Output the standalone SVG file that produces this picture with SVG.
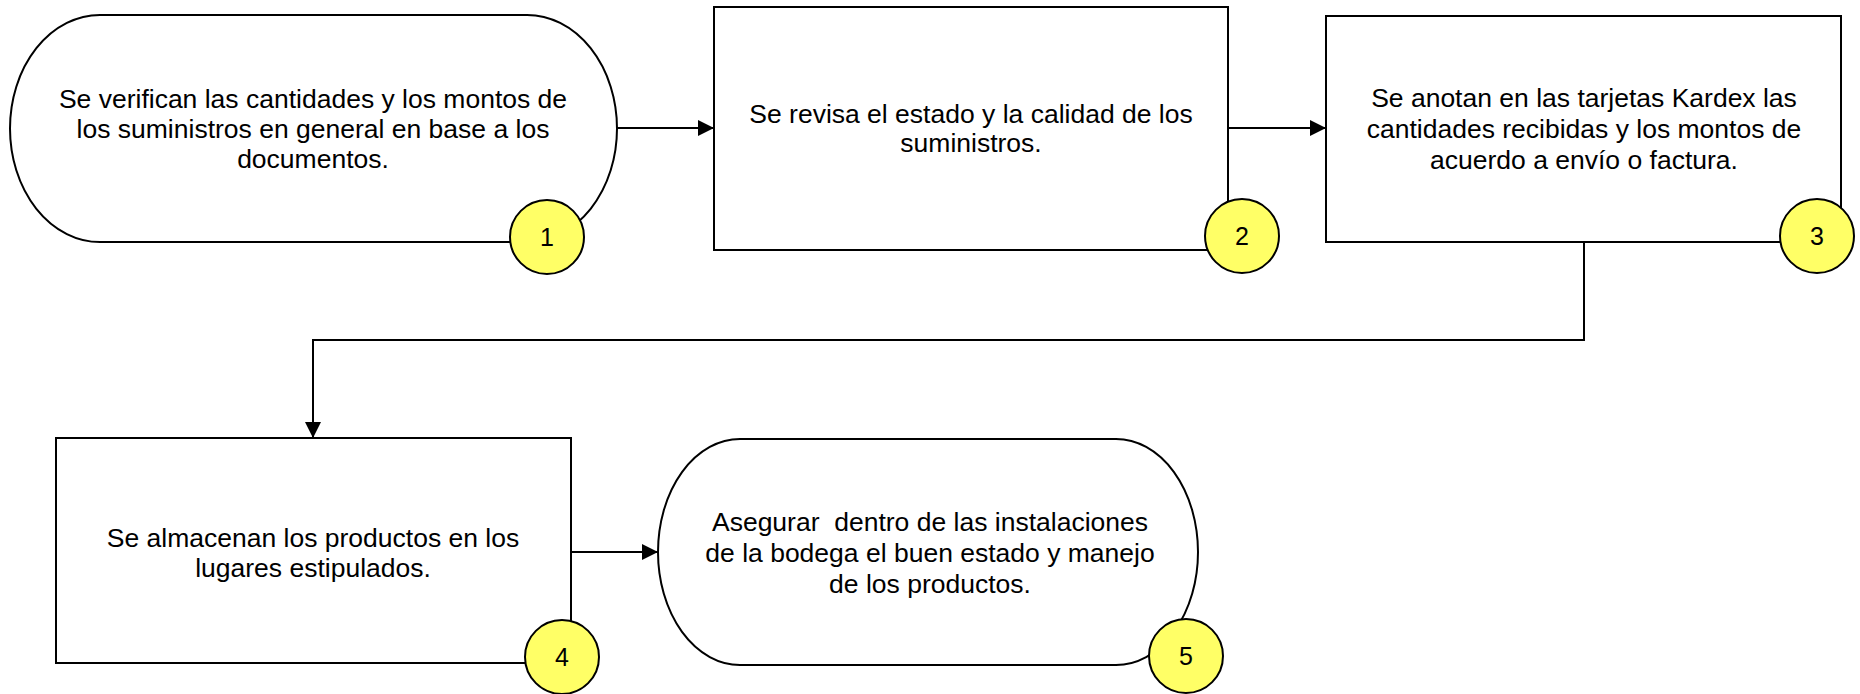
<svg xmlns="http://www.w3.org/2000/svg" width="1860" height="694" viewBox="0 0 1860 694">
<style>
.box{fill:#fff;stroke:#000;stroke-width:2}
.num{fill:#FFFF66;stroke:#000;stroke-width:2}
.t{font-family:"Liberation Sans",Arial,sans-serif;font-size:26.5px;fill:#000;text-anchor:middle;white-space:pre}
.n{font-family:"Liberation Sans",Arial,sans-serif;font-size:25px;fill:#000;text-anchor:middle}
.c{fill:none;stroke:#000;stroke-width:2}
</style>
<defs>
<marker id="ah" markerWidth="16" markerHeight="16" viewBox="0 0 16 16" refX="16" refY="8" orient="auto" markerUnits="userSpaceOnUse">
<path d="M0,0 L16,8 L0,16 Z" fill="#000"/>
</marker>
</defs>
<rect width="1860" height="694" fill="#fff"/>
<g id="connectors">
<line class="c" x1="617" y1="128" x2="714" y2="128" marker-end="url(#ah)"/>
<line class="c" x1="1228" y1="128" x2="1326" y2="128" marker-end="url(#ah)"/>
<polyline class="c" points="1584,242 1584,340 313,340 313,438" marker-end="url(#ah)"/>
<line class="c" x1="571" y1="552" x2="658" y2="552" marker-end="url(#ah)"/>
</g>
<g id="node1">
<path class="box" d="M100,15 L527,15 A90,113.5 0 0 1 527,242 L100,242 A90,113.5 0 0 1 100,15 Z"/>
<text class="t" x="313" y="108">Se verifican las cantidades y los montos de</text>
<text class="t" x="313" y="138">los suministros en general en base a los</text>
<text class="t" x="313" y="168">documentos.</text>
<circle class="num" cx="547" cy="237" r="37"/>
<text class="n" x="547" y="246">1</text>
</g>
<g id="node2">
<rect class="box" x="714" y="7" width="514" height="243"/>
<text class="t" x="971" y="123">Se revisa el estado y la calidad de los</text>
<text class="t" x="971" y="152">suministros.</text>
<circle class="num" cx="1242" cy="236" r="37"/>
<text class="n" x="1242" y="245">2</text>
</g>
<g id="node3">
<rect class="box" x="1326" y="16" width="515" height="226"/>
<text class="t" x="1584" y="107">Se anotan en las tarjetas Kardex las</text>
<text class="t" x="1584" y="138">cantidades recibidas y los montos de</text>
<text class="t" x="1584" y="169">acuerdo a envío o factura.</text>
<circle class="num" cx="1817" cy="236" r="37"/>
<text class="n" x="1817" y="245">3</text>
</g>
<g id="node4">
<rect class="box" x="56" y="438" width="515" height="225"/>
<text class="t" x="313" y="547">Se almacenan los productos en los</text>
<text class="t" x="313" y="577">lugares estipulados.</text>
<circle class="num" cx="562" cy="657" r="37"/>
<text class="n" x="562" y="666">4</text>
</g>
<g id="node5">
<path class="box" d="M740,439 L1116,439 A82,113 0 0 1 1116,665 L740,665 A82,113 0 0 1 740,439 Z"/>
<text class="t" x="930" y="531">Asegurar  dentro de las instalaciones</text>
<text class="t" x="930" y="562">de la bodega el buen estado y manejo</text>
<text class="t" x="930" y="593">de los productos.</text>
<circle class="num" cx="1186" cy="656" r="37"/>
<text class="n" x="1186" y="665">5</text>
</g>
</svg>
